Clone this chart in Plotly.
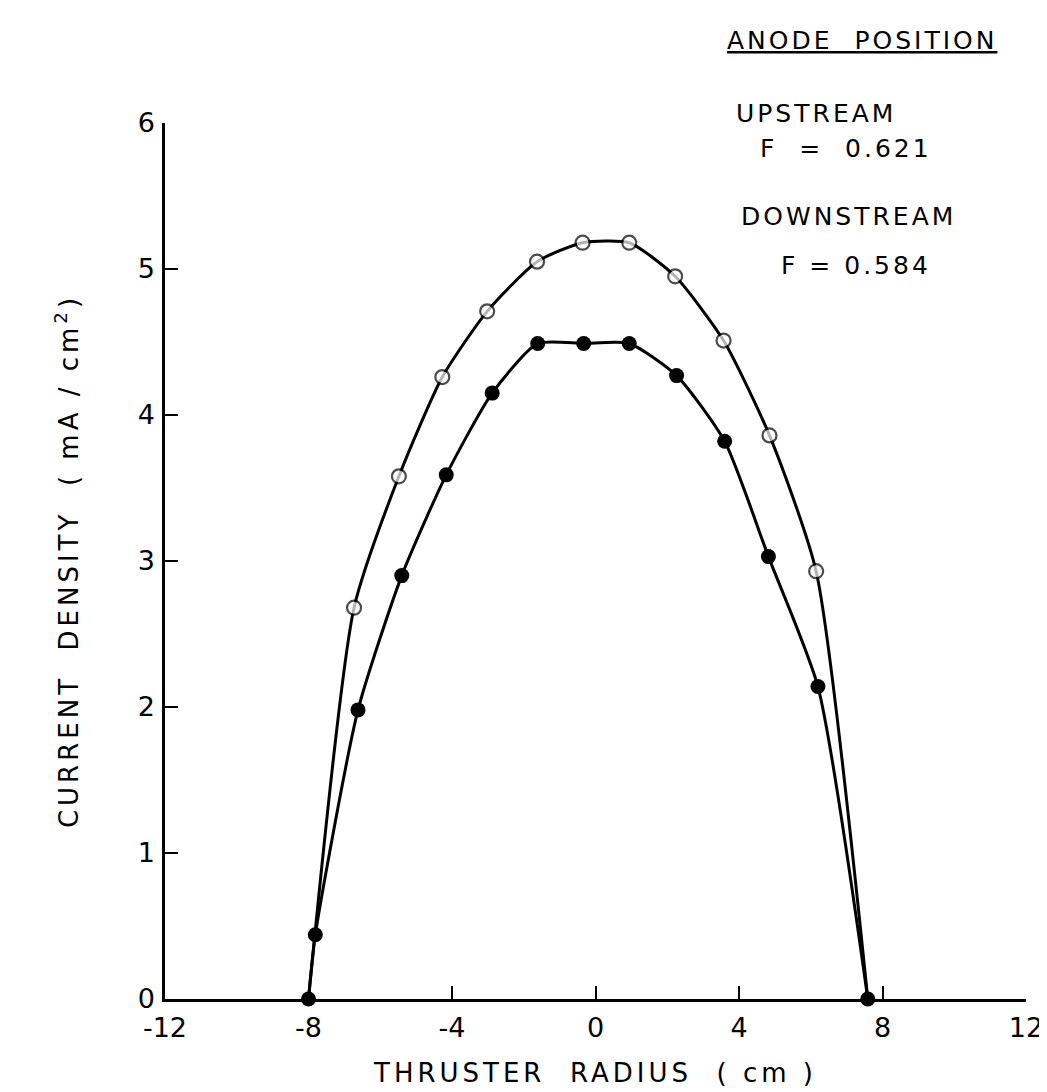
import plotly.graph_objects as go

# Data
up_x = [-8.0, -6.73, -5.48, -4.27, -3.02, -1.63, -0.36, 0.94, 2.22, 3.57, 4.85, 6.15, 7.59]
up_y = [0.0, 2.68, 3.58, 4.26, 4.71, 5.05, 5.18, 5.18, 4.95, 4.51, 3.86, 2.93, 0.0]

down_x = [-8.0, -7.81, -6.62, -5.40, -4.16, -2.88, -1.61, -0.33, 0.94, 2.26, 3.60, 4.82, 6.20, 7.59]
down_y = [0.0, 0.44, 1.98, 2.90, 3.59, 4.15, 4.49, 4.49, 4.49, 4.27, 3.82, 3.03, 2.14, 0.0]

x_ticks = [-12, -8, -4, 0, 4, 8, 12]
y_ticks = [0, 1, 2, 3, 4, 5, 6]

FONT = "DejaVu Sans"


def spaced(t, px=4):
    return f'<span style="letter-spacing:{px}px">{t}</span>'


up_sizes = [0] + [14] * (len(up_x) - 2) + [0]

fig = go.Figure()
fig.add_trace(go.Scatter(
    x=up_x, y=up_y, mode="lines+markers", name="UPSTREAM",
    line=dict(color="black", width=3, shape="spline", smoothing=0.6),
    marker=dict(symbol="circle", size=up_sizes, color="white",
                line=dict(color="black", width=2.2)),
    cliponaxis=False, showlegend=False,
))
fig.add_trace(go.Scatter(
    x=down_x, y=down_y, mode="lines+markers", name="DOWNSTREAM",
    line=dict(color="black", width=3, shape="spline", smoothing=0.6),
    marker=dict(symbol="circle", size=15, color="black"),
    cliponaxis=False, showlegend=False,
))

fig.update_layout(
    width=1047, height=1092,
    margin=dict(l=157, r=19, t=115, b=101),
    paper_bgcolor="white", plot_bgcolor="white",
    font=dict(family=FONT, color="black", size=24),
    xaxis=dict(
        range=[-12, 12], tickvals=x_ticks, ticktext=[str(v) for v in x_ticks],
        ticks="inside", ticklen=13, tickwidth=2, tickcolor="black",
        showline=True, linecolor="black", linewidth=3, showgrid=False, zeroline=False,
        tickfont=dict(size=27, family=FONT), ticklabelstandoff=3,
        title=dict(text=spaced("THRUSTER  RADIUS  ( cm )", 4), font=dict(size=26, family=FONT), standoff=22),
    ),
    yaxis=dict(
        range=[0, 6], tickvals=y_ticks,
        ticks="inside", ticklen=13, tickwidth=2, tickcolor="black",
        showline=True, linecolor="black", linewidth=2.5, showgrid=False, zeroline=False,
        tickfont=dict(size=27, family=FONT), ticklabelstandoff=2,
        title=dict(text=spaced("CURRENT  DENSITY  ( mA / cm<sup>2</sup>)", 4), font=dict(size=26, family=FONT), standoff=52),
    ),
)

ann = [
    ("<u>ANODE  POSITION</u>", 862, 32, 3),
    ("UPSTREAM", 816, 105, 3),
    ("F  =  0.621", 846, 140, 3),
    ("DOWNSTREAM", 848, 208, 3),
    ("F = 0.584", 856, 258, 3),
]
for text, px, py, ls in ann:
    fig.add_annotation(
        text=spaced(text, ls), xref="paper", yref="paper",
        x=(px - 157) / (1047 - 157 - 19), y=1 - (py - 115) / (1092 - 115 - 101),
        xanchor="center", yanchor="middle", showarrow=False,
        font=dict(size=25, family=FONT, color="black"),
    )

fig.write_html("out.html")
